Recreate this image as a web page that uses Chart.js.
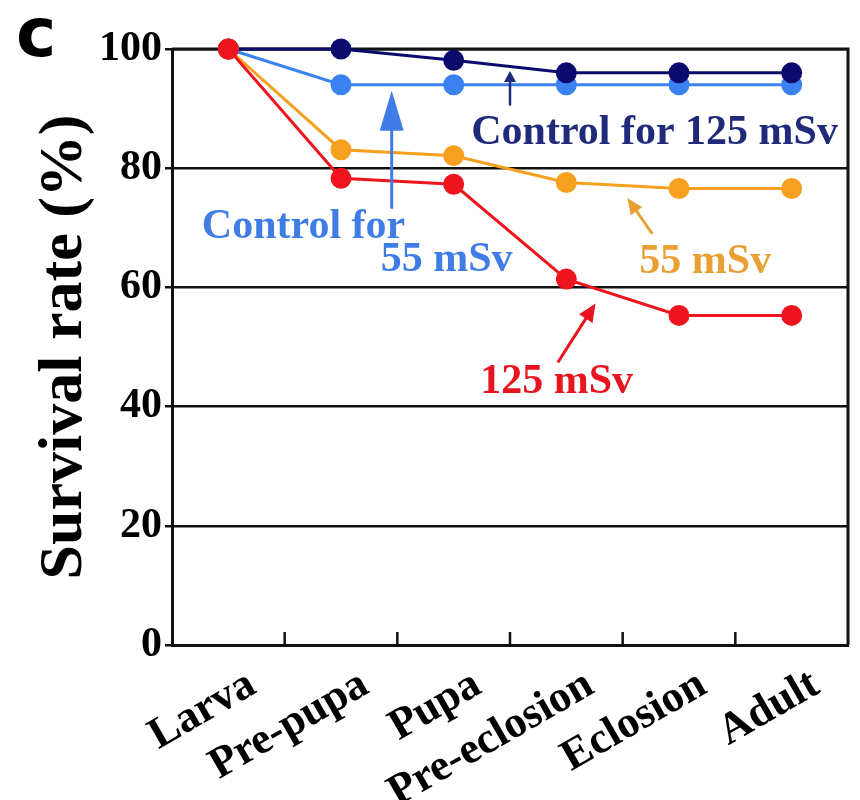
<!DOCTYPE html>
<html>
<head>
<meta charset="utf-8">
<script src="https://cdn.jsdelivr.net/npm/chart.js@4.4.1/dist/chart.umd.min.js"></script>
<style>
  html, body { margin: 0; padding: 0; background: #fff; }
  #wrap { width: 860px; height: 800px; }
</style>
</head>
<body>
<div id="wrap"><canvas id="survivalChart" width="860" height="800"></canvas></div>
<script>
// Survival rate per developmental stage
const stages = ['Larva', 'Pre-pupa', 'Pupa', 'Pre-eclosion', 'Eclosion', 'Adult'];
const ctrl125 = [100, 100, 98.1, 96.0, 96.0, 96.0];
const ctrl55 = [100, 94.0, 94.0, 94.0, 94.0, 94.0];
const dose55 = [100, 83.1, 82.1, 77.6, 76.6, 76.6];
const dose125 = [100, 78.3, 77.3, 61.4, 55.3, 55.3];
const yTicks = [0, 20, 40, 60, 80, 100];

const NAVY = '#0b0b6e', BLUE = '#3b82f0', ORANGE = '#f5a01e', RED = '#f0141e';
const serif = '"Liberation Serif", "Times New Roman", serif';

// labels and arrows, placed in data units (x = category index, y = %)
const notes = [
  { text: 'Control for 125 mSv', x: 2.156, y: 84.1, color: '#1f2a7a' },
  { text: 'Control for', x: -0.235, y: 68.3, color: '#3f7ce6' },
  { text: '55 mSv', x: 1.353, y: 62.8, color: '#3f7ce6' },
  { text: '55 mSv', x: 3.648, y: 62.5, color: '#e8a035' },
  { text: '125 mSv', x: 2.236, y: 42.2, color: '#e8141e' }
];
const arrows = [
  { from: [2.5, 90.5], to: [2.5, 96.3], color: '#1f2a7a', len: 11, half: 6, w: 2.5 },
  { from: [1.45, 73.2], to: [1.45, 93.0], color: '#3f7ce6', len: 40, half: 12, w: 3 },
  { from: [3.762, 69.0], to: [3.542, 75.0], color: '#e8a035', len: 16, half: 7, w: 3 },
  { from: [2.924, 47.4], to: [3.259, 57.3], color: '#e8141e', len: 18, half: 8, w: 3 }
];

function arrow(ctx, x1, y1, x2, y2, a) {
  const ang = Math.atan2(y2 - y1, x2 - x1);
  ctx.strokeStyle = a.color; ctx.fillStyle = a.color; ctx.lineWidth = a.w;
  ctx.beginPath();
  ctx.moveTo(x1, y1);
  ctx.lineTo(x2 - Math.cos(ang) * a.len * 0.8, y2 - Math.sin(ang) * a.len * 0.8);
  ctx.stroke();
  ctx.beginPath();
  ctx.moveTo(x2, y2);
  ctx.lineTo(x2 - Math.cos(ang) * a.len - Math.sin(ang) * a.half, y2 - Math.sin(ang) * a.len + Math.cos(ang) * a.half);
  ctx.lineTo(x2 - Math.cos(ang) * a.len + Math.sin(ang) * a.half, y2 - Math.sin(ang) * a.len - Math.cos(ang) * a.half);
  ctx.closePath();
  ctx.fill();
}

const decor = {
  id: 'decor',
  beforeDatasetsDraw(chart) {
    const { ctx, chartArea: a, scales: { x } } = chart;
    ctx.save();
    ctx.strokeStyle = '#111';
    ctx.lineWidth = 3;
    ctx.beginPath();
    ctx.moveTo(a.left, a.top);
    ctx.lineTo(a.right, a.top);
    ctx.lineTo(a.right, a.bottom);
    ctx.stroke();
    // short inward ticks between the stages
    ctx.lineWidth = 2.5;
    ctx.beginPath();
    for (let i = 0; i < stages.length - 1; i++) {
      const px = (x.getPixelForValue(i) + x.getPixelForValue(i + 1)) / 2;
      ctx.moveTo(px, a.bottom);
      ctx.lineTo(px, a.bottom - 13);
    }
    ctx.stroke();
    ctx.restore();
  },
  afterDatasetsDraw(chart) {
    const { ctx, scales: { x, y } } = chart;
    ctx.save();
    arrows.forEach(a => {
      arrow(ctx, x.getPixelForValue(a.from[0]), y.getPixelForValue(a.from[1]),
        x.getPixelForValue(a.to[0]), y.getPixelForValue(a.to[1]), a);
    });
    ctx.font = 'bold 42px ' + serif;
    ctx.textAlign = 'left';
    ctx.textBaseline = 'alphabetic';
    notes.forEach(n => {
      ctx.fillStyle = n.color;
      ctx.fillText(n.text, x.getPixelForValue(n.x), y.getPixelForValue(n.y));
    });
    // panel letter
    ctx.fillStyle = '#000';
    ctx.font = 'bold 68px "DejaVu Sans", sans-serif';
    ctx.fillText('c', 16, 56);
    ctx.restore();
  }
};

const ds = (data, color) => ({
  data: data,
  borderColor: color,
  backgroundColor: color,
  pointBackgroundColor: color,
  pointBorderColor: color,
  borderWidth: 3,
  pointRadius: 9,
  tension: 0,
  clip: false
});

new Chart(document.getElementById('survivalChart'), {
  type: 'line',
  data: {
    labels: stages,
    datasets: [
      Object.assign(ds(dose125, RED), { label: '125 mSv' }),
      Object.assign(ds(dose55, ORANGE), { label: '55 mSv' }),
      Object.assign(ds(ctrl125, NAVY), { label: 'Control for 125 mSv' }),
      Object.assign(ds(ctrl55, BLUE), { label: 'Control for 55 mSv' })
    ]
  },
  plugins: [decor],
  options: {
    responsive: false,
    animation: false,
    layout: { padding: { left: 28, right: -4, top: 49, bottom: 0 } },
    plugins: { legend: { display: false }, tooltip: { enabled: false } },
    scales: {
      x: {
        offset: true,
        grid: { display: false },
        border: { color: '#111', width: 3 },
        ticks: {
          color: '#000',
          autoSkip: false,
          minRotation: 30,
          maxRotation: 30,
          labelOffset: 24,
          padding: 6,
          font: { family: serif, weight: 'bold', size: 44 }
        },
        afterFit(s) { s.height = 155; }
      },
      y: {
        min: 0,
        max: 100,
        afterBuildTicks(s) { s.ticks = yTicks.map(v => ({ value: v })); },
        grid: { color: '#111', lineWidth: 2.5, tickLength: 7, drawTicks: true },
        border: { color: '#111', width: 3 },
        ticks: {
          color: '#000',
          padding: 3,
          font: { family: serif, weight: 'bold', size: 42 }
        },
        title: {
          display: true,
          text: 'Survival rate (%)',
          color: '#000',
          padding: 0,
          font: { family: serif, weight: 'bold', size: 62 }
        },
        afterFit(s) { s.width = 144; }
      }
    }
  }
});
</script>
</body>
</html>
